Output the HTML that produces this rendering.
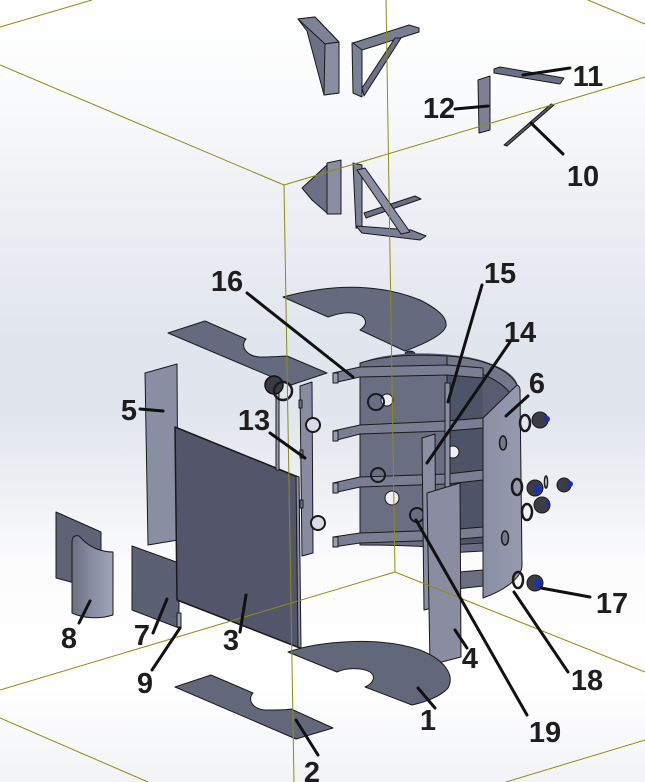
<!DOCTYPE html>
<html><head><meta charset="utf-8"><style>
html,body{margin:0;padding:0;}
body{width:645px;height:782px;overflow:hidden;background:#fff;}
svg{display:block;}
text{font-family:"Liberation Sans",sans-serif;font-weight:bold;font-size:29px;fill:#1e1e1e;text-anchor:middle;}
</style></head><body>
<svg width="645" height="782" viewBox="0 0 645 782" xmlns="http://www.w3.org/2000/svg">
<defs>
<linearGradient id="bg" x1="0" y1="0" x2="0" y2="1">
<stop offset="0" stop-color="#ffffff"/>
<stop offset="0.12" stop-color="#fafbfc"/>
<stop offset="0.28" stop-color="#eceef3"/>
<stop offset="0.43" stop-color="#e1e5ed"/>
<stop offset="0.53" stop-color="#e1e5ed"/>
<stop offset="0.63" stop-color="#eef0f4"/>
<stop offset="0.72" stop-color="#fcfcfd"/>
<stop offset="0.88" stop-color="#ffffff"/>
<stop offset="1" stop-color="#f2f3f6"/>
</linearGradient>
<linearGradient id="curv" x1="0" y1="0" x2="1" y2="0">
<stop offset="0" stop-color="#6a6e82"/>
<stop offset="0.5" stop-color="#8a8ea2"/>
<stop offset="1" stop-color="#a0a4b6"/>
</linearGradient>
<linearGradient id="p6" x1="0" y1="0" x2="1" y2="0">
<stop offset="0" stop-color="#8a8ea3"/>
<stop offset="1" stop-color="#979bae"/>
</linearGradient>
</defs>
<rect width="645" height="782" fill="url(#bg)"/>

<g stroke="#1a1a1a" stroke-width="1" stroke-linejoin="round">
<!-- Top brackets -->
<polygon points="298,19 315,17 339,42 339,93 324,95 307,31" fill="#6c7086"/>
<polygon points="298,19 315,17 339,42 325,44" fill="#7e8297"/>
<polygon points="325,44 339,42 339,93 324,95" fill="#8a8ea2"/>
<polygon points="352,43 362,41 362,97 353,93" fill="#7d8196"/>
<polygon points="353,43 409,25 419,28 419,32 362,50" fill="#7a7e92"/>
<polygon points="362,88 395,38 401,38 364,96" fill="#6c7086"/>

<polygon points="302,188 327,165 327,213 312,200" fill="#6c7086"/>
<polygon points="327,163 341,160 341,214 327,214" fill="#8a8ea2"/>
<polygon points="364,213 415,196 421,199 366,218" fill="#6c7086"/>
<polygon points="353,163 362,165 362,228 356,228" fill="#7d8196"/>
<polygon points="356,226 411,230 426,236 420,240 362,233" fill="#7a7e92"/>
<polygon points="357,170 365,168 410,232 401,234" fill="#8a8ea2"/>

<!-- 12, 11, 10 -->
<polygon points="478,80 490,76 490,130 479,133" fill="#7d8196"/>
<polygon points="494,69 500,67 564,78 560,84 494,73" fill="#6c7086"/>
<polygon points="504,145 551,104 554,105 507,146" fill="#555a6e"/>

<!-- top half annulus plate -->
<path d="M283,297 Q360,276 420,300 Q448,314 446,326 Q443,337 405,351 L360,330 Q370,323 362,316 Q350,309 328,317 Z" fill="#666a7e"/>
<ellipse cx="410" cy="354" rx="5" ry="3" fill="#3a3d48"/>

<!-- upper left plate -->
<path d="M168,333 L205,321 L246,339 C239,347 248,358 263,357 C275,357 284,356 287,356 L327,373 L291,385 Z" fill="#666a7e"/>

<!-- part 5 -->
<polygon points="145,373 177,364 178,540 148,545" fill="#8a8ea3"/>

<!-- part 8 -->
<polygon points="56,512 101,532 101,590 56,578" fill="#5e6275"/>
<path d="M72,542 C72,535 78,534 81,538 C90,548 102,552 113,552 L113,615 C100,619 85,619 72,613 Z" fill="url(#curv)"/>

<!-- part 7 -->
<polygon points="132,546 179,563 179,628 132,610" fill="#5c6073"/>
<rect x="177" y="563" width="4" height="14" fill="#9a9daf"/>
<rect x="177" y="613" width="4" height="14" fill="#9a9daf"/>

<!-- part 3 -->
<polygon points="175,427 298,477 300,648 177,600" fill="#53566a" stroke-width="1.5"/>
<polygon points="296,476 299,477 301,648 298,647" fill="#8a8ea3"/>

<!-- rod & washer near 13 -->
<rect x="276" y="390" width="3" height="80" fill="#9a9db0"/>
<circle cx="274" cy="385" r="9" fill="#3a3a44" stroke="#111" stroke-width="1.5"/>
<circle cx="283" cy="391" r="9" fill="none" stroke="#1a1a1a" stroke-width="2.5"/>

<!-- part 13 -->
<polygon points="300,386 312,382 313,553 302,556" fill="#888ca1"/>
<rect x="299" y="400" width="3" height="8" fill="#6c7086"/>
<rect x="300" y="450" width="3" height="8" fill="#6c7086"/>
<rect x="300" y="500" width="3" height="8" fill="#6c7086"/>
<circle cx="313" cy="425" r="7" fill="#d9dce5" stroke="#1a1a1a" stroke-width="2"/>
<circle cx="318" cy="523" r="7" fill="#d9dce5" stroke="#1a1a1a" stroke-width="2"/>

<!-- cylinder shell -->
<path d="M360,363 C385,352 430,351 468,357 C498,363 517,375 518,387 L483,418 L483,545 L360,545 Z" fill="#585c70" stroke="none"/>
<rect x="447" y="366" width="36" height="176" fill="#4f5367" stroke="none"/>
<path d="M447,356 C480,358 510,368 518,387 L510,393 C500,380 475,368 447,366 Z" fill="#73778c"/>
<path d="M360,363 C385,355 420,354 447,356 L447,548 C420,546 385,545 360,545 Z" fill="#6a6e83"/>

<!-- inner lower bands -->
<polygon points="447,545 483,543 483,551 447,553" fill="#6a6e83"/>
<polygon points="447,573 483,570 483,586 447,590" fill="#6a6e83"/>
<circle cx="453" cy="452" r="6" fill="#eef0f5"/>

<!-- rings (16) -->
<polygon points="333,373 360,367 447,365 483,368 483,378 447,375 360,377 333,383" fill="#7a7e93"/>
<polygon points="333,431 360,425 447,421 483,418 483,428 447,431 360,434 333,441" fill="#7a7e93"/>
<polygon points="333,483 360,477 447,474 483,470 483,480 447,484 360,487 333,493" fill="#7a7e93"/>
<polygon points="333,537 360,533 447,530 483,527 483,537 447,540 360,543 333,547" fill="#7a7e93"/>
<rect x="333" y="373" width="5" height="10" fill="#9a9db0"/>
<rect x="333" y="431" width="5" height="10" fill="#9a9db0"/>
<rect x="333" y="483" width="5" height="10" fill="#9a9db0"/>
<rect x="333" y="537" width="5" height="10" fill="#9a9db0"/>

<!-- body holes & nuts -->
<circle cx="387" cy="400" r="6" fill="#eef0f5"/>
<circle cx="376" cy="402" r="8" fill="none" stroke="#1a1a1a" stroke-width="2"/>
<circle cx="392" cy="498" r="7" fill="#eef0f5"/>
<circle cx="378" cy="475" r="7" fill="none" stroke="#1a1a1a" stroke-width="2"/>
<circle cx="417" cy="515" r="7" fill="none" stroke="#1a1a1a" stroke-width="2"/>

<!-- part 15 -->
<rect x="445" y="383" width="5" height="107" fill="#8a8ea3"/>

<!-- part 6 -->
<path d="M483,418 L517,385 C519,386 520,388 520,390 L522,565 C522,578 505,590 483,598 Z" fill="url(#p6)"/>
<ellipse cx="503" cy="443" rx="3.5" ry="7" fill="#74788d" stroke-width="1.5"/>
<ellipse cx="505" cy="538" rx="3.5" ry="7" fill="#74788d" stroke-width="1.5"/>

<!-- part 14 -->
<polygon points="422,438 435,434 436,607 424,610" fill="#8a8ea3"/>
<!-- part 4 -->
<polygon points="427,493 460,483 461,657 430,665" fill="#8a8da0"/>

<!-- plate 1 -->
<path d="M288,652 C320,641 380,636 420,650 C445,660 455,675 448,688 C440,697 425,702 412,705 L365,687 C374,683 376,676 370,672 C362,667 345,668 337,672 Z" fill="#63677a"/>
<!-- plate 2 -->
<path d="M175,687 L211,675 L253,693 C246,701 255,711 268,710 C280,710 288,710 291,709 L333,728 L296,739 Z" fill="#63677a"/>
</g>

<!-- bolts right -->
<g stroke="#1a1a1a">
<ellipse cx="525" cy="423" rx="5" ry="8" fill="none" stroke-width="2.5"/>
<circle cx="540" cy="420" r="8" fill="#3a3d45" stroke-width="1"/>
<circle cx="547" cy="419" r="3" fill="#1b2fb5" stroke="none"/>
<ellipse cx="517" cy="487" rx="5" ry="8" fill="none" stroke-width="2.5"/>
<circle cx="535" cy="488" r="8" fill="#3a3d45" stroke-width="1"/>
<circle cx="537" cy="489" r="4" fill="#1b2fb5" stroke="none"/>
<ellipse cx="546" cy="482" rx="1.5" ry="6" fill="none" stroke-width="1.5"/>
<circle cx="564" cy="485" r="7" fill="#3a3d45" stroke-width="1"/>
<circle cx="570" cy="484" r="3" fill="#1b2fb5" stroke="none"/>
<ellipse cx="527" cy="512" rx="5" ry="8" fill="none" stroke-width="2.5"/>
<circle cx="542" cy="505" r="8" fill="#3a3d45" stroke-width="1"/>
<circle cx="548" cy="503" r="2" fill="#1b2fb5" stroke="none"/>
<ellipse cx="518" cy="580" rx="5" ry="8" fill="none" stroke-width="2.5"/>
<circle cx="535" cy="583" r="8" fill="#3a3d45" stroke-width="1"/>
<circle cx="538" cy="583" r="4" fill="#1b2fb5" stroke="none"/>
</g>

<!-- bounding box lines -->
<g stroke="#8c8c14" stroke-width="1" fill="none">
<line x1="0" y1="27" x2="92" y2="0"/>
<line x1="0" y1="65" x2="284" y2="185"/>
<line x1="284" y1="185" x2="645" y2="77"/>
<line x1="284" y1="185" x2="294" y2="782"/>
<line x1="386" y1="0" x2="395" y2="572"/>
<line x1="588" y1="0" x2="645" y2="24"/>
<line x1="0" y1="690" x2="395" y2="572"/>
<line x1="395" y1="572" x2="645" y2="672"/>
<line x1="0" y1="718" x2="148" y2="782"/>
<line x1="506" y1="782" x2="645" y2="740"/>
</g>

<!-- leaders -->
<g stroke="#111" stroke-width="3" stroke-linecap="round">
<line x1="570" y1="68" x2="523" y2="75"/>
<line x1="455" y1="109" x2="488" y2="106"/>
<line x1="531" y1="123" x2="563" y2="154"/>
<line x1="247" y1="293" x2="353" y2="377"/>
<line x1="482" y1="285" x2="448" y2="402"/>
<line x1="510" y1="342" x2="427" y2="463"/>
<line x1="270" y1="433" x2="305" y2="458"/>
<line x1="140" y1="409" x2="163" y2="411"/>
<line x1="528" y1="396" x2="506" y2="416"/>
<line x1="541" y1="588" x2="590" y2="597"/>
<line x1="514" y1="592" x2="568" y2="672"/>
<line x1="416" y1="520" x2="527" y2="715"/>
<line x1="455" y1="630" x2="467" y2="648"/>
<line x1="418" y1="688" x2="435" y2="708"/>
<line x1="296" y1="720" x2="318" y2="755"/>
<line x1="246" y1="595" x2="240" y2="632"/>
<line x1="167" y1="599" x2="153" y2="633"/>
<line x1="90" y1="601" x2="79" y2="623"/>
<line x1="180" y1="628" x2="152" y2="670"/>
</g>

<!-- labels -->
<text x="588" y="86">11</text>
<text x="439" y="118">12</text>
<text x="583" y="186">10</text>
<text x="227" y="291">16</text>
<text x="500" y="283">15</text>
<text x="520" y="342">14</text>
<text x="254" y="430">13</text>
<text x="129" y="420">5</text>
<text x="537" y="393">6</text>
<text x="612" y="613">17</text>
<text x="587" y="690">18</text>
<text x="545" y="742">19</text>
<text x="470" y="668">4</text>
<text x="428" y="730">1</text>
<text x="312" y="782">2</text>
<text x="231" y="650">3</text>
<text x="142" y="645">7</text>
<text x="69" y="648">8</text>
<text x="145" y="693">9</text>
</svg>
</body></html>
